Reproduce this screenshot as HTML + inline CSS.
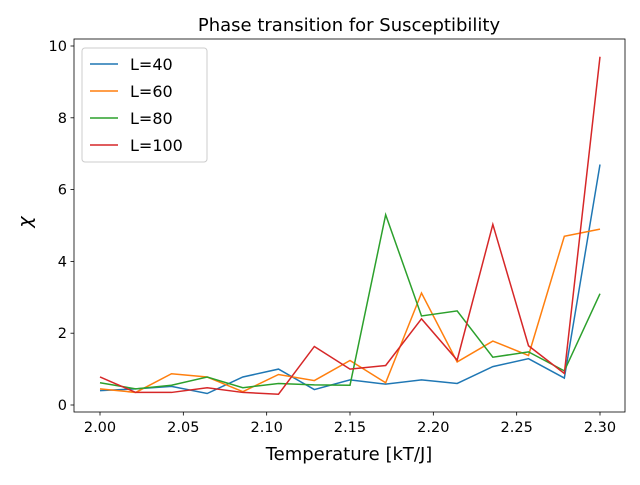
<!DOCTYPE html>
<html><head><meta charset="utf-8"><style>
body{margin:0;background:#fff;}
svg text{font-family:"DejaVu Sans","Liberation Sans",sans-serif;fill:#000;}
</style></head><body>
<svg id="c" width="640" height="480"></svg>
<script>
const xTicks=[2.00,2.05,2.10,2.15,2.20,2.25,2.30];
const yTicks=[0,2,4,6,8,10];
const temps=[2.0,2.0214,2.0429,2.0643,2.0857,2.1071,2.1286,2.15,2.1714,2.1929,2.2143,2.2357,2.2571,2.2786,2.3];
const l40=[0.4,0.45,0.52,0.32,0.78,1.0,0.43,0.7,0.58,0.7,0.6,1.07,1.29,0.75,6.7];
const l60=[0.45,0.35,0.87,0.78,0.37,0.85,0.68,1.24,0.62,3.12,1.2,1.78,1.38,4.7,4.9];
const l80=[0.62,0.45,0.55,0.78,0.48,0.6,0.56,0.55,5.3,2.48,2.62,1.33,1.48,0.95,3.1];
const l100=[0.78,0.35,0.35,0.48,0.35,0.3,1.63,1.0,1.1,2.4,1.25,5.03,1.65,0.88,9.7];
const seriesNames=["L=40","L=60","L=80","L=100"];
const colors=["#1f77b4","#ff7f0e","#2ca02c","#d62728"];
const all=[l40,l60,l80,l100];
const L=74,R=625,T=39,B=412;
const sx=v=>100+(v-2.0)*(500/0.3);
const sy=v=>405-v*35.9;
const svg=document.getElementById('c');
const NS="http://www.w3.org/2000/svg";
function mk(t,a,txt){const e=document.createElementNS(NS,t);for(const k in a)e.setAttribute(k,a[k]);if(txt!==undefined)e.textContent=txt;svg.appendChild(e);return e;}
all.forEach((s,i)=>{
 const p=mk('polyline',{points:s.map((v,j)=>sx(temps[j])+','+sy(v)).join(' '),fill:'none',stroke:colors[i],'stroke-width':1.5});
 
 
});
const fr=mk('rect',{x:L,y:T,width:R-L,height:B-T,fill:'none',stroke:'#000','stroke-width':0.8});


xTicks.forEach(v=>{
 const x=sx(v);
 mk('line',{x1:x,x2:x,y1:B,y2:B+3.5,stroke:'#000','stroke-width':0.8});
 const t=mk('text',{x:x,y:B+20,'text-anchor':'middle','font-size':14.5},v.toFixed(2));
 
 
});
yTicks.forEach(v=>{
 const y=sy(v);
 mk('line',{x1:L-3.5,x2:L,y1:y,y2:y,stroke:'#000','stroke-width':0.8});
 const t=mk('text',{x:L-7,y:y+5,'text-anchor':'end','font-size':14.5},String(v));
 
 
});
const ti=mk('text',{x:349,y:31,'text-anchor':'middle','font-size':18},'Phase transition for Susceptibility');


const xt=mk('text',{x:349,y:460,'text-anchor':'middle','font-size':18},'Temperature [kT/J]');


const yt=mk('text',{x:31,y:222,'text-anchor':'middle','font-size':19,'font-style':'italic',transform:'rotate(-90 31 222)'},'χ');


const lg=mk('rect',{x:82,y:48,width:125,height:114,rx:3,fill:'#fff',stroke:'#ccc','stroke-width':1});


seriesNames.forEach((n,i)=>{
 const y=64+i*27;
 mk('line',{x1:90,x2:118,y1:y,y2:y,stroke:colors[i],'stroke-width':1.5});
 const t=mk('text',{x:130,y:y+6,'font-size':16},n);
 
 
});
</script>
</body></html>
